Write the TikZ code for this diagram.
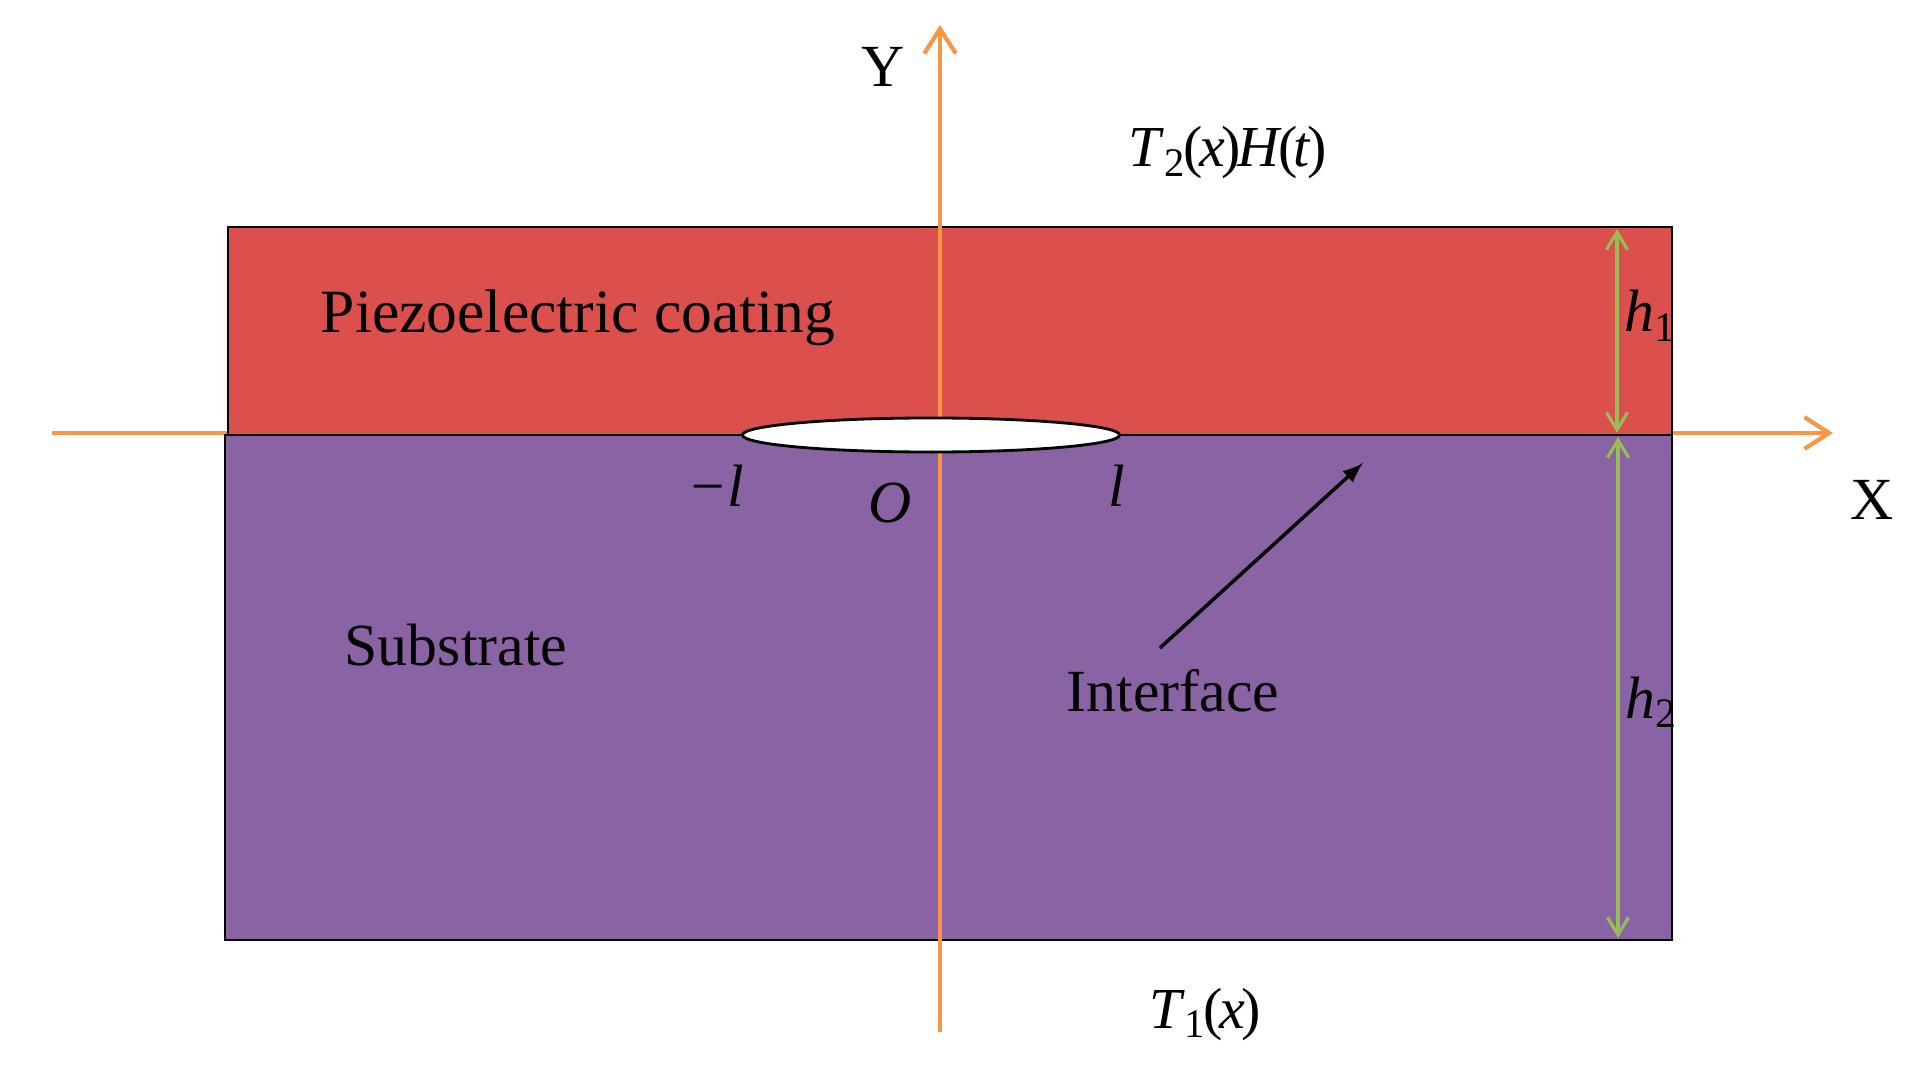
\documentclass[tikz,border=0pt]{standalone}
\usepackage{fontspec}
\setmainfont{Liberation Serif}
\usetikzlibrary{arrows.meta,shapes.geometric}
\definecolor{coatred}{RGB}{219,79,76}
\definecolor{subpurple}{RGB}{138,99,164}
\definecolor{axisorange}{RGB}{247,150,70}
\definecolor{dimgreen}{RGB}{155,187,89}
\newcommand{\tk}{\kern-.06em}
\tikzset{
  lbl/.style={font=\fontsize{17}{20}\selectfont, inner sep=0pt, anchor=base},
  axis/.style={draw=axisorange, line width=1.2pt, -{Straight Barb[length=7pt,width=9pt]}},
  dimline/.style={draw=dimgreen, line width=0.9pt,
    {Straight Barb[length=5pt,width=6pt]}-{Straight Barb[length=5pt,width=6pt]}},
}
\begin{document}
\begin{tikzpicture}[x=0.01cm,y=-0.01cm]
      \useasboundingbox (0,0) rectangle (1926,1070);
      \coordinate (xs) at (52,433);
      \coordinate (xe) at (1833,433);
      \coordinate (ys) at (940,1032);
      \coordinate (ye) at (940,25);
      \draw[axis] (xs) -- (xe);
      % the two layers
      \filldraw[fill=subpurple, line width=0.8pt] (225,435) rectangle (1672,940);
      \filldraw[fill=coatred, line width=0.8pt] (228,227) rectangle (1672,435);
      \draw[axis] (ys) -- (ye);
      \node[ellipse, draw, fill=white, line width=0.8pt, minimum width=3.77cm,
        minimum height=0.34cm, inner sep=0pt] (crack) at (931,435) {};
      \node[lbl] (ylab) at (883,87) {Y};
      \node[lbl] (xlab) at (1872,520) {X};
      \node[lbl, font=\fontsize{16.5}{20}\selectfont] (load) at (1228,167)
        {\textit{T}\textsubscript{2}\tk(\tk\textit{x}\tk)\tk\textit{H}\tk(\tk\textit{t}\tk)};
      \node[lbl, font=\fontsize{16.5}{20}\selectfont] (trac) at (1205,1028)
        {\textit{T}\textsubscript{1}\tk(\tk\textit{x}\tk)};
      \node[lbl, font=\fontsize{17.5}{20}\selectfont] (coat) at (578,333) {Piezoelectric coating};
      \node[lbl] (sub) at (456,665) {Substrate};
      \node[lbl] (iface) at (1173,711) {Interface};
      \node[lbl] (lm) at (716,507) {\textit{−l}};
      \node[lbl] (orig) at (890,523) {\textit{O}};
      \node[lbl] (lp) at (1117,507) {\textit{l}};
      \node[lbl] (hone) at (1651,332) {\textit{h}\textsubscript{1}};
      \node[lbl] (htwo) at (1652,718) {\textit{h}\textsubscript{2}};
      % thickness arrows
      \coordinate (h1t) at (1617,229);
      \coordinate (h1b) at (1617,433);
      \coordinate (h2t) at (1618,437);
      \coordinate (h2b) at (1618,938);
      \draw[dimline] (h1t) -- (h1b);
      \draw[dimline] (h2t) -- (h2b);
      \coordinate (ifs) at (1160,648);
      \coordinate (ife) at (1363,463);
      \draw[-latex, line width=1pt] (ifs) -- (ife);
\end{tikzpicture}
\end{document}
